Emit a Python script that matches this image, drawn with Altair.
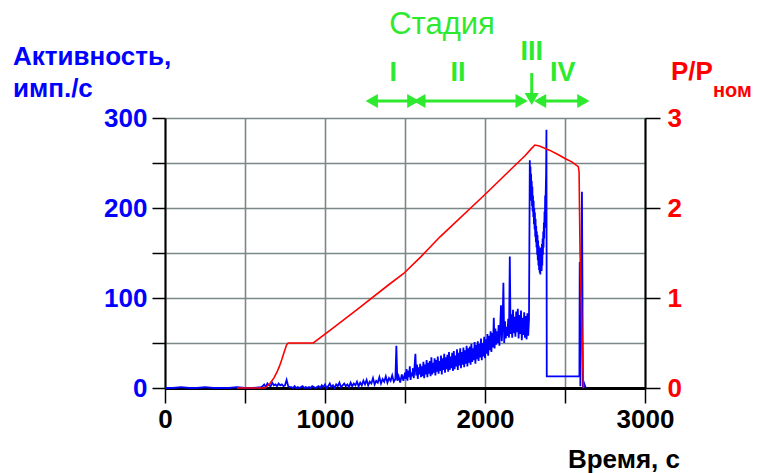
import altair as alt
import pandas as pd

# ---------------- Activity (blue), imp./s ----------------
act_t_a = [0, 50, 100, 150, 200, 250, 300, 350, 400, 450, 500, 550, 600]
act_v_a = [0, 0, 1, 0, 0, 1, 0, 0, 0, 1, 0, 0, 1]

act_t_b = [610, 620, 630, 640, 650, 660, 670, 680, 690, 700,
           710, 720, 730, 740, 750, 760, 770, 780,
           790, 800, 810, 820, 830, 840, 850, 860, 870, 880,
           890, 900, 910, 920, 930, 940, 950,
           960, 970, 980, 990, 1000, 1010, 1020, 1030, 1040, 1050,
           1060, 1070, 1080, 1090, 1100, 1110, 1120, 1130, 1140, 1150,
           1160, 1170, 1180, 1190, 1200,
           1210, 1220, 1230, 1240, 1250, 1260, 1270, 1280, 1290, 1300,
           1310, 1320, 1330, 1340, 1350, 1360, 1370, 1380, 1390, 1400,
           1410, 1420, 1430, 1440,
           1446, 1452, 1460, 1470, 1480, 1490, 1500]
act_v_b = [2, 4, 1, 5, 3, 2, 6, 3, 4, 2,
           5, 3, 4, 2, 3, 9, 2, 1,
           1, 0, 2, 0, 1, 0, 1, 2, 0, 1,
           0, 1, 0, 2, 1, 0, 1,
           2, 0, 3, 1, 4, 0, 2, 5, 1, 3,
           0, 4, 2, 6, 1, 3, 5, 2, 4, 1,
           6, 2, 5, 3, 7,
           2, 6, 3, 8, 4, 9, 3, 7, 5, 11,
           4, 8, 6, 12, 5, 10, 7, 13, 6, 11,
           8, 14, 7, 10,
           47, 8, 13, 6, 15, 8, 17]

act_t_c = [1505, 1510, 1515, 1520, 1525, 1530, 1535, 1540, 1545, 1550,
           1555, 1560, 1565, 1570, 1575, 1580, 1585, 1590, 1595, 1600,
           1605, 1610, 1615, 1620, 1625, 1630, 1635, 1640, 1645, 1650,
           1655, 1660, 1665, 1670, 1675, 1680, 1685, 1690, 1695, 1700,
           1705, 1710, 1715, 1720, 1725, 1730, 1735, 1740, 1745, 1750,
           1755, 1760, 1765, 1770, 1775, 1780, 1785, 1790, 1795, 1800,
           1805, 1810, 1815, 1820, 1825, 1830, 1835, 1840, 1845, 1850,
           1855, 1860, 1865, 1870, 1875, 1880, 1885, 1890, 1895, 1900,
           1905, 1910, 1915, 1920, 1925, 1930, 1935, 1940, 1945, 1950,
           1955, 1960, 1965, 1970, 1975, 1980, 1985, 1990, 1995, 2000,
           2005, 2010, 2015, 2020, 2025, 2030, 2035, 2040, 2045, 2050,
           2055, 2060, 2065, 2070, 2075, 2080, 2085, 2090, 2095, 2100,
           2105, 2110, 2115, 2120, 2125, 2130, 2135, 2140, 2145, 2150,
           2155, 2160, 2165, 2170, 2175, 2180, 2185, 2190, 2195, 2200,
           2205, 2210, 2215, 2220, 2225, 2230, 2235, 2240, 2245, 2250,
           2255, 2260, 2265, 2270, 2275]
act_v_c = [10, 21, 8, 19, 12, 24, 9, 17, 13, 22,
           11, 25, 38, 14, 26, 10, 23, 15, 27, 12,
           24, 13, 29, 11, 26, 15, 31, 12, 28, 16,
           30, 13, 34, 15, 28, 17, 33, 14, 31, 18,
           35, 16, 30, 19, 36, 15, 33, 20, 38, 17,
           34, 21, 37, 18, 40, 20, 35, 22, 39, 19,
           41, 21, 36, 24, 43, 20, 39, 25, 44, 22,
           40, 26, 45, 23, 42, 27, 47, 24, 44, 28,
           46, 26, 49, 29, 44, 31, 51, 27, 48, 32,
           52, 30, 49, 34, 55, 31, 50, 35, 57, 33,
           54, 38, 60, 36, 58, 42, 63, 40, 61, 45,
           78, 44, 66, 48, 63, 50, 70, 47, 68, 92,
           52, 72, 117, 50, 74, 55, 68, 58, 77, 56,
           146, 60, 82, 56, 87, 61, 79, 57, 85, 62,
           88, 55, 81, 60, 86, 53, 78, 59, 84, 56,
           80, 54, 83, 58, 76]

act_t_d = [2280, 2282, 2284, 2286, 2288, 2290, 2292, 2294, 2296, 2298,
           2300, 2302, 2304, 2306, 2308, 2310, 2312, 2314, 2316, 2318,
           2320, 2322, 2324, 2326, 2328, 2330, 2332, 2334, 2336, 2338,
           2340, 2342, 2344, 2346, 2348, 2350, 2352, 2354, 2356, 2358,
           2360, 2362, 2364, 2366, 2368, 2370, 2372, 2374, 2376, 2378,
           2380, 2382, 2384,
           2386, 2590, 2592, 2596, 2606, 2612, 2620, 2630]
act_v_d = [253, 226, 246, 218, 238, 208, 230, 202, 224, 196,
           214, 190, 208, 182, 200, 176, 195, 168, 188, 162,
           180, 156, 174, 148, 170, 142, 164, 136, 158, 131,
           152, 128, 148, 126, 156, 132, 150, 130, 160, 136,
           166, 148, 174, 156, 184, 166, 196, 178, 214, 200,
           222, 240, 287,
           13, 13, 140, 2, 218, 0, 5, 0]

# ---------------- Relative power P/Pnom (red) ----------------
pow_t = [450, 625, 656, 680, 698, 715, 729, 745, 760, 770,
         927, 1031, 1200, 1400, 1490, 1600, 1719, 2000, 2156, 2250,
         2290, 2312, 2340, 2406, 2450, 2500, 2545, 2583, 2588, 2594,
         2615]
pow_v = [0, 0, 0.05, 0.11, 0.17, 0.24, 0.31, 0.40, 0.48, 0.50,
         0.50, 0.64, 0.87, 1.15, 1.27, 1.46, 1.68, 2.15, 2.42, 2.58,
         2.66, 2.70, 2.69, 2.64, 2.60, 2.55, 2.51, 2.46, 2.40, 1.50,
         0]

# ---------------- Stage annotations ----------------
stage_names = ["I", "II", "IV"]
stage_label_t = [1427, 1831, 2486]
stage3_name = ["III"]
stage3_t = [2292]
arrow_start = [1292, 1590, 2344]
arrow_end = [1552, 2229, 2615]

x_ticks = [0, 500, 1000, 1500, 2000, 2500, 3000]
y_left_ticks = [0, 50, 100, 150, 200, 250, 300]
y_right_ticks = [0, 0.5, 1, 1.5, 2, 2.5, 3]

act_df = pd.DataFrame({"t": act_t_a + act_t_b + act_t_c + act_t_d,
                       "v": act_v_a + act_v_b + act_v_c + act_v_d})
pow_df = pd.DataFrame({"t": pow_t, "p": pow_v})
stage_df = pd.DataFrame({"t": stage_label_t, "name": stage_names})
stage3_df = pd.DataFrame({"t": stage3_t, "name": stage3_name})
arrow_df = pd.DataFrame({"t": arrow_start, "t2": arrow_end})

FONT = "Liberation Sans"
GREEN = "#2eea2e"
GRID = "#7a8888"

xscale = alt.Scale(domain=[0, 3000], nice=False)
xaxis = alt.Axis(values=x_ticks, format="d",
                 labelExpr="datum.value % 1000 == 0 ? datum.label : ''",
                 labelFont=FONT, labelFontSize=26, labelFontWeight="bold",
                 labelColor="black", labelPadding=3, labelFlush=False,
                 tickSize=15, tickColor="black", tickWidth=1.5,
                 domainColor="black", domainWidth=3,
                 grid=True, gridColor=GRID, gridWidth=1.6, title=None)

blue = alt.Chart(act_df).mark_line(color="#0000ff", strokeWidth=1.8).encode(
    x=alt.X("t:Q", scale=xscale, axis=xaxis),
    y=alt.Y("v:Q", scale=alt.Scale(domain=[0, 300], nice=False),
            axis=alt.Axis(orient="left", values=y_left_ticks, format="d",
                          labelExpr="datum.value % 100 == 0 ? datum.label : ''",
                          labelFont=FONT, labelFontSize=26, labelFontWeight="bold",
                          labelColor="#0000ff", labelPadding=5,
                          tickSize=13, tickColor="black", tickWidth=1.5,
                          domainColor="black", domainWidth=2,
                          grid=True, gridColor=GRID, gridWidth=1.6, title=None)),
)

red = alt.Chart(pow_df).mark_line(color="#ff0000", strokeWidth=1.6).encode(
    x=alt.X("t:Q"),
    y=alt.Y("p:Q", scale=alt.Scale(domain=[0, 3], nice=False),
            axis=alt.Axis(orient="right", values=y_right_ticks, format="d",
                          labelExpr="datum.value % 1 == 0 ? datum.label : ''",
                          labelFont=FONT, labelFontSize=26, labelFontWeight="bold",
                          labelColor="#ff0000", labelPadding=7,
                          tickSize=15, tickColor="black", tickWidth=1.5,
                          domainColor="black", domainWidth=2,
                          grid=False, title=None)),
)

one = pd.DataFrame({"a": [0]})

def txt(text, x, y, color, size, weight="bold", align="left"):
    return alt.Chart(one).mark_text(
        text=text, font=FONT, fontSize=size, fontWeight=weight, color=color,
        align=align, baseline="middle"
    ).encode(x=alt.value(x), y=alt.value(y))

titles = [
    txt("Активность,", -152, -61, "#0000ff", 26),
    txt("имп./с", -152, -29, "#0000ff", 26),
    txt("P/P", 506, -46, "#ff0000", 26),
    txt("ном", 548, -27, "#ff0000", 20),
    txt("Время, с", 515, 342, "black", 26, align="right"),
    txt("Стадия", 277, -93, GREEN, 31, weight="normal", align="center"),
]

stage_text = alt.Chart(stage_df).mark_text(
    font=FONT, fontSize=27, fontWeight="bold", color=GREEN, baseline="middle"
).encode(x=alt.X("t:Q"), y=alt.value(-45), text="name:N")

stage3_text = alt.Chart(stage3_df).mark_text(
    font=FONT, fontSize=27, fontWeight="bold", color=GREEN, baseline="middle"
).encode(x=alt.X("t:Q"), y=alt.value(-66), text="name:N")

arrow_line = alt.Chart(arrow_df).mark_rule(color=GREEN, strokeWidth=3).encode(
    x=alt.X("t:Q"), x2="t2:Q", y=alt.value(-17))
head_l = alt.Chart(arrow_df).mark_point(shape="triangle-left", filled=True, opacity=1,
                                        color=GREEN, size=200).encode(
    x=alt.X("t:Q"), y=alt.value(-17))
head_r = alt.Chart(arrow_df).mark_point(shape="triangle-right", filled=True, opacity=1,
                                        color=GREEN, size=200).encode(
    x=alt.X("t2:Q"), y=alt.value(-17))
down_line = alt.Chart(stage3_df).mark_rule(color=GREEN, strokeWidth=3).encode(
    x=alt.X("t:Q"), y=alt.value(-45), y2=alt.value(-22))
down_head = alt.Chart(stage3_df).mark_point(shape="triangle-down", filled=True, opacity=1,
                                            color=GREEN, size=200).encode(
    x=alt.X("t:Q"), y=alt.value(-19))

chart = alt.layer(
    blue, red, stage_text, stage3_text, arrow_line, head_l, head_r,
    down_line, down_head, *titles
).resolve_scale(y="independent").properties(
    width=480, height=270,
    autosize=alt.AutoSizeParams(type="none"),
    padding={"left": 165, "top": 118, "right": 114, "bottom": 85},
    background="white",
).configure_view(stroke=None)

chart.save("out.html", embed_options={"renderer": "svg", "actions": False})
